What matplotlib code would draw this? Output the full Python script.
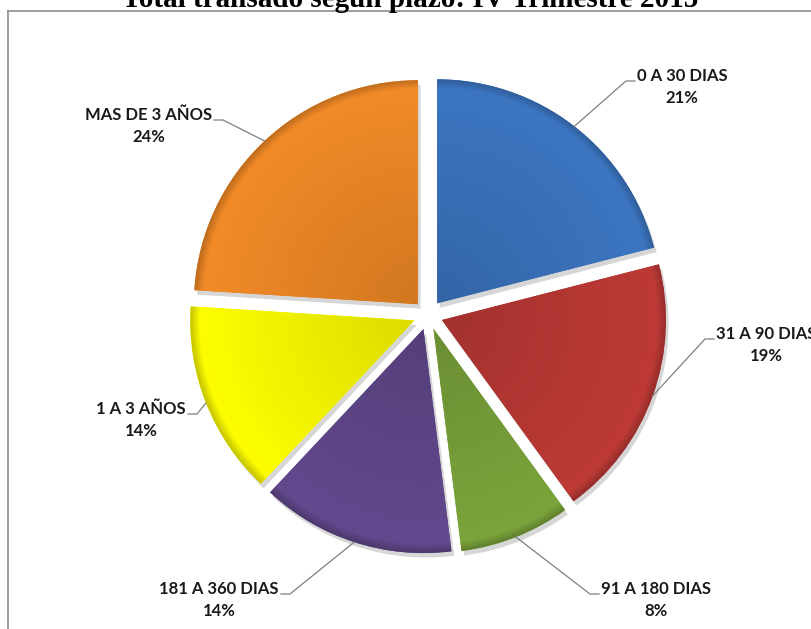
import numpy as np
import matplotlib.pyplot as plt
from matplotlib.patches import Wedge
from matplotlib.lines import Line2D
from matplotlib.colors import to_rgb

# data
categories = ['0 A 30 DIAS', '31 A 90 DIAS', '91 A 180 DIAS',
              '181 A 360 DIAS', '1 A 3 AÑOS', 'MAS DE 3 AÑOS']
shares = [21, 19, 8, 14, 14, 24]
colors = ['#3C76C2', '#BE3A36', '#7CA53C', '#63498E', '#FFFF00', '#F38B27']
title = 'Total transado según plazo: IV Trimestre 2015'

W, H = 812, 629
fig = plt.figure(figsize=(W / 100, H / 100), dpi=100)

# pie geometry in pixels (from top-left)
cx, cy = 428, 315
rx, ry = 224, 224
lim = 1.3
ax = fig.add_axes([(cx - lim * rx) / W, 1 - (cy + lim * ry) / H,
                   2 * lim * rx / W, 2 * lim * ry / H])
wedges, _ = ax.pie(shares, colors=colors, startangle=90, counterclock=False,
                   explode=[0.066] * len(shares), frame=True,
                   wedgeprops=dict(linewidth=0))

# soft shadow + radial shading on every slice
xx, yy = np.meshgrid(np.linspace(-lim, lim, 400), np.linspace(-lim, lim, 400))
for w, c in zip(wedges, colors):
    sh = Wedge((w.center[0] + 0.012, w.center[1] - 0.02), w.r, w.theta1, w.theta2,
               facecolor='#000000', alpha=0.16, linewidth=0, zorder=0.5)
    ax.add_patch(sh)
    base = np.array(to_rgb(c))
    d = np.hypot(xx - w.center[0], yy - w.center[1]) / w.r
    t = np.clip(d, 0, 1)[..., None]
    rgb = base * 0.86 * (1 - t) + base * t
    edge = np.clip((d - 0.96) / 0.04, 0, 1)[..., None]
    rgb = rgb * (1 - 0.22 * edge)
    im = ax.imshow(np.clip(rgb, 0, 1), extent=(-lim, lim, -lim, lim),
                   origin='lower', aspect='auto', zorder=1)
    im.set_clip_path(w)

ax.set_xlim(-lim, lim)
ax.set_ylim(-lim, lim)
ax.set_aspect('auto')
ax.axis('off')

# label layout: elbow of the leader (px from top, at text baseline) and side
label_pos = [(626, 81, 'right'), (705, 339, 'right'), (590, 594, 'right'),
             (290, 594, 'left'), (197, 414, 'left'), (223, 120, 'left')]

lax = fig.add_axes([0, 0, 1, 1], facecolor='none')
lax.set_xlim(0, W)
lax.set_ylim(H, 0)
lax.axis('off')

font = dict(fontsize=12, fontweight='bold', color='#1a1a1a', family='Lato')
renderer = fig.canvas.get_renderer()
for w, name, pct, (sx, sy, side) in zip(wedges, categories, shares, label_pos):
    mid = np.deg2rad((w.theta1 + w.theta2) / 2)
    px = cx + (w.center[0] + np.cos(mid)) * rx
    py = cy - (w.center[1] + np.sin(mid)) * ry
    step = 9 if side == 'right' else -9
    lax.add_line(Line2D([px, sx, sx + step], [py, sy, sy],
                        color='#7f7f7f', linewidth=0.9))
    ha = 'left' if side == 'right' else 'right'
    t = lax.text(sx + step + (2 if side == 'right' else -2), sy, name,
                 ha=ha, va='baseline', **font)
    bb = t.get_window_extent(renderer)
    xc = (bb.x0 + bb.x1) / 2
    lax.text(xc, sy + 22, f'{pct}%', ha='center', va='baseline', **font)

# chart frame (cut off at right and bottom)
lax.add_line(Line2D([8, W], [11, 11], color='#8c8c8c', linewidth=1.2))
lax.add_line(Line2D([8, 8], [11, H], color='#8c8c8c', linewidth=1.2))

fig.text(410 / W, 1 - 7 / H, title, ha='center', va='baseline',
         fontsize=21, fontweight='bold', family='Liberation Serif')

fig.savefig('out.png', dpi=100)
